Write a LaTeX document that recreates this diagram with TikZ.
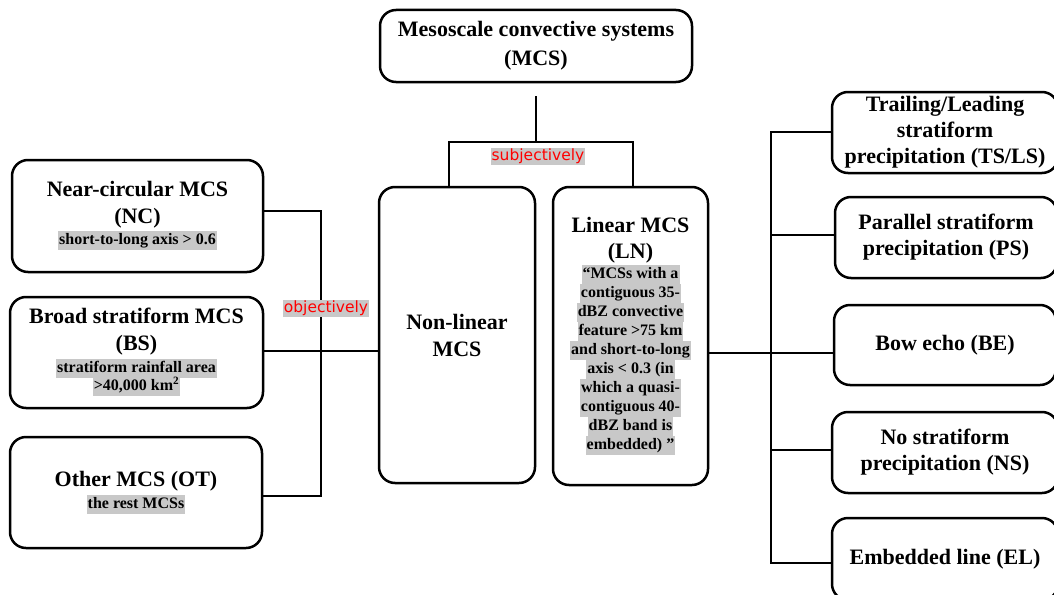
\documentclass[tikz,border=0pt]{standalone}
\usepackage{fontspec}
\setmainfont{Liberation Serif}
\newfontfamily\labfont{DejaVu Sans}
\usepackage{xcolor}
\definecolor{hlgray}{RGB}{200,200,200}
\setlength\fboxsep{1pt}
\setlength\lineskiplimit{-100pt}
\newcommand\hlt[1]{{\fontsize{16}{19}\selectfont\colorbox{hlgray}{\rule[-4.5pt]{0pt}{17pt}#1}}}
\newcommand\ttl{\fontsize{22}{27}\selectfont\bfseries}
\tikzset{
  box/.style={draw, line width=2.5pt, rounded corners=16pt, align=center, font=\ttl},
  lbl/.style={fill=hlgray, text=red, font=\labfont\fontsize{15.5}{18}\selectfont, inner xsep=1pt, inner ysep=1pt},
  conn/.style={line width=2.8pt},
}
\begin{document}
\begin{tikzpicture}[x=1pt,y=-1pt]
\useasboundingbox (0,0) rectangle (1054,594);
% top
\node[box, minimum width=312pt, minimum height=72pt, font=\fontsize{22}{29}\selectfont\bfseries] (mcs) at (536,46) {Mesoscale convective systems\\(MCS)};
% middle
\node[box, minimum width=156pt, minimum height=296pt] (nl) at (457,335) {Non-linear\\MCS};
\node[box, minimum width=155pt, minimum height=298pt, font=\fontsize{16}{19}\selectfont\bfseries] (ln) at (630.5,336)
  {{\ttl Linear MCS}\\[7pt]{\ttl (LN)}\\[1pt]\hlt{“MCSs with a}\\\hlt{contiguous 35-}\\\hlt{dBZ convective}\\\hlt{feature >75 km}\\\hlt{and short-to-long}\\\hlt{axis < 0.3 (in}\\\hlt{which a quasi-}\\\hlt{contiguous 40-}\\\hlt{dBZ band is}\\\hlt{embedded) ”}};
% left
\node[box, minimum width=251pt, minimum height=112pt] (nc) at (137.5,216) {Near-circular MCS\\(NC)\\[-6pt]\hlt{short-to-long axis > 0.6}};
\node[box, minimum width=253pt, minimum height=111pt] (bs) at (136.5,352.5) {Broad stratiform MCS\\(BS)\\[-5pt]\hlt{stratiform rainfall area}\\[-9pt]\hlt{>40,000 km\textsuperscript{2}}};
\node[box, minimum width=252pt, minimum height=111pt] (ot) at (136,492.5) {Other MCS (OT)\\[-5pt]\hlt{the rest MCSs}};
% right
\node[box, minimum width=226pt, minimum height=81pt, font=\fontsize{22}{26}\selectfont\bfseries] (ts) at (945,132.5) {Trailing/Leading\\stratiform\\precipitation (TS/LS)};
\node[box, minimum width=222pt, minimum height=81pt, font=\fontsize{22}{26}\selectfont\bfseries] (ps) at (946,237.5) {Parallel stratiform\\precipitation (PS)};
\node[box, minimum width=222pt, minimum height=80pt, font=\fontsize{22}{26}\selectfont\bfseries] (be) at (945,345) {Bow echo (BE)};
\node[box, minimum width=226pt, minimum height=81pt, font=\fontsize{22}{26}\selectfont\bfseries] (ns) at (945,452.5) {No stratiform\\precipitation (NS)};
\node[box, minimum width=226pt, minimum height=82pt, font=\fontsize{22}{26}\selectfont\bfseries] (el) at (945,559) {Embedded line (EL)};
% top connectors
\coordinate (t0) at (536,96);
\coordinate (t1) at (536,142);
\coordinate (tl) at (449,142);
\coordinate (tr) at (633,142);
\draw[conn] (t0) -- (t1);
\draw[conn] (tl |- nl.north) -- (tl) -- (tr) -- (tr |- ln.north);
% left connectors
\coordinate (lv1) at (321,211);
\coordinate (lv2) at (321,496);
\coordinate (lm) at (321,351);
\draw[conn] (nc.east |- lv1) -- (lv1) -- (lv2) -- (ot.east |- lv2);
\draw[conn] (bs.east |- lm) -- (nl.west |- lm);
% right connectors
\coordinate (rv1) at (771,132);
\coordinate (rv2) at (771,563);
\coordinate (rm) at (771,353);
\coordinate (rp) at (771,235);
\coordinate (rn) at (771,450);
\draw[conn] (ts.west |- rv1) -- (rv1) -- (rv2) -- (el.west |- rv2);
\draw[conn] (ln.east |- rm) -- (be.west |- rm);
\draw[conn] (rp) -- (ps.west |- rp);
\draw[conn] (rn) -- (ns.west |- rn);
% labels
\node[lbl] (subj) at (538,156) {subjectively};
\node[lbl] (obj) at (326,308) {objectively};
\end{tikzpicture}
\end{document}
